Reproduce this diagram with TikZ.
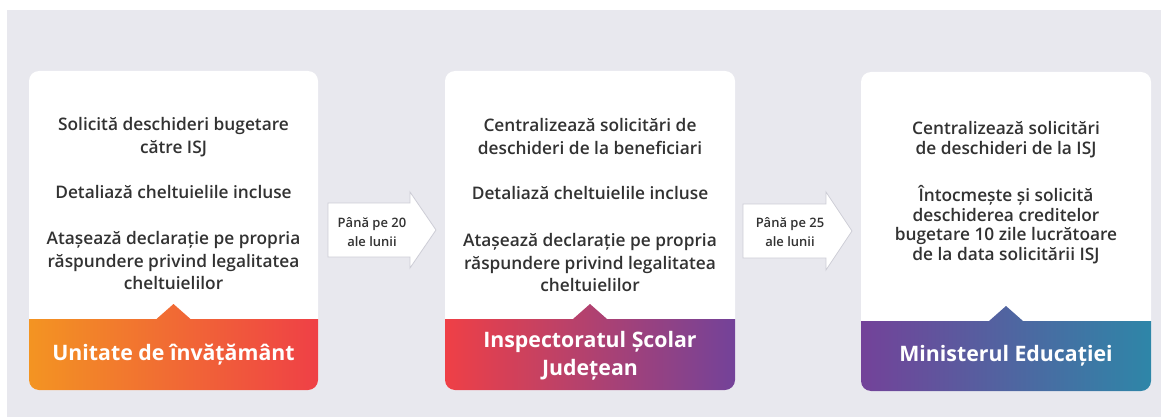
\documentclass[tikz,border=0pt]{standalone}
\usepackage{fontspec}
\setmainfont{Open Sans}
\newfontfamily\semib{Open Sans Semibold}
\definecolor{bg}{RGB}{232,232,238}
\definecolor{txt}{RGB}{50,50,50}
\definecolor{corange}{RGB}{243,148,34}
\definecolor{cred}{RGB}{239,64,70}
\definecolor{cpurple}{RGB}{115,66,153}
\definecolor{cteal}{RGB}{46,134,168}
\definecolor{arrowline}{RGB}{205,205,214}
\begin{document}
\begin{tikzpicture}[x=1pt,y=-1pt,
  cardbox/.style={draw=none,fill=white,rounded corners=10pt,inner sep=0pt,outer sep=0pt},
  bodytxt/.style={font=\semib\fontsize{17.3}{22.7}\selectfont,text=txt,align=center,inner sep=0pt},
  titletxt/.style={font=\bfseries\fontsize{21.3}{28}\selectfont,text=white,align=center,inner sep=0pt},
  arrowtxt/.style={font=\semib\fontsize{13}{19}\selectfont,text=txt,align=center,inner sep=0pt},
  blockarrow/.style={fill=white,draw=arrowline,line width=0.8pt,line join=miter}]
\useasboundingbox (0,0) rectangle (1161,417);
\fill[white] (0,0) rectangle (1161,417);
\fill[bg] (7,10) rectangle (1161,417);

% ---------- card 1 ----------
\node[cardbox,minimum width=289pt,minimum height=319pt] (c1) at (173.5,230.5) {};
\begin{scope}
\clip[rounded corners=10pt] (29,71) rectangle (318,390);
\shade[left color=corange,right color=cred] (29,319) -- (156.5,319) -- (173.5,304) -- (190.5,319) -- (318,319) -- (318,390) -- (29,390) -- cycle;
\end{scope}
\node[bodytxt] (t1) at (173.5,204) {Solicită deschideri bugetare\\către ISJ\\[22.5pt]Detaliază cheltuielile incluse\\[23pt]Atașează declarație pe propria\\răspundere privind legalitatea\\cheltuielilor};
\node[titletxt] (h1) at (173.5,355) {Unitate de învățământ};

% ---------- card 2 ----------
\node[cardbox,minimum width=290pt,minimum height=319pt] (c2) at (590,230.5) {};
\begin{scope}
\clip[rounded corners=10pt] (445,71) rectangle (735,390);
\shade[left color=cred,right color=cpurple] (445,319) -- (573,319) -- (590,304) -- (607,319) -- (735,319) -- (735,390) -- (445,390) -- cycle;
\end{scope}
\node[bodytxt] (t2) at (590,205.5) {Centralizează solicitări de\\deschideri de la beneficiari\\[22.5pt]Detaliază cheltuielile incluse\\[24pt]Atașează declarație pe propria\\răspundere privind legalitatea\\cheltuielilor};
\node[titletxt] (h2) at (590,356) {Inspectoratul Școlar\\Județean};

% ---------- card 3 ----------
\node[cardbox,minimum width=290pt,minimum height=319pt] (c3) at (1006,231.5) {};
\begin{scope}
\clip[rounded corners=10pt] (861,72) rectangle (1151,391);
\shade[left color=cpurple,right color=cteal] (861,321) -- (989,321) -- (1006,306) -- (1023,321) -- (1151,321) -- (1151,391) -- (861,391) -- cycle;
\end{scope}
\node[bodytxt,font=\semib\fontsize{17.3}{19.5}\selectfont] (t3) at (1006,192.5) {Centralizează solicitări\\de deschideri de la ISJ\\[27pt]Întocmește și solicită\\deschiderea creditelor\\bugetare 10 zile lucrătoare\\de la data solicitării ISJ};
\node[titletxt] (h3) at (1006,356) {Ministerul Educației};

% ---------- arrows ----------
\draw[blockarrow] (328,203) -- (410,203) -- (410,192) -- (436,230) -- (410,268) -- (410,257) -- (328,257) -- cycle;
\node[arrowtxt] (a1) at (372,232) {Până pe 20\\ale lunii};
\draw[blockarrow] (743,204) -- (826,204) -- (826,192) -- (852,231) -- (826,270) -- (826,258) -- (743,258) -- cycle;
\node[arrowtxt] (a2) at (790,232) {Până pe 25\\ale lunii};
\end{tikzpicture}
\end{document}
